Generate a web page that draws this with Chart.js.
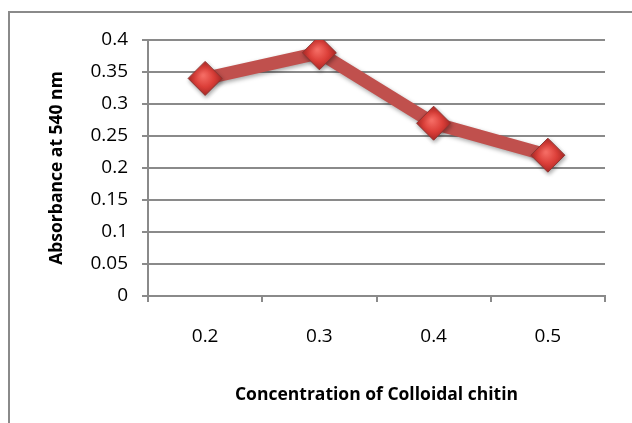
<!DOCTYPE html>
<html>
<head>
<meta charset="utf-8">
<script src="https://cdn.jsdelivr.net/npm/chart.js@4/dist/chart.umd.min.js"></script>
<style>
  html, body { margin: 0; padding: 0; background: #ffffff; overflow: hidden; }
  #frame { position: absolute; left: 8px; top: 11px; width: 700px; height: 500px;
           border: 2px solid #8a8a8a; box-sizing: border-box; }
  #wrap { position: absolute; left: 0; top: 0; width: 632px; height: 423px; }
</style>
</head>
<body>
<div id="frame"></div>
<div id="wrap"><canvas id="c" width="632" height="423"></canvas></div>
<script>
// Colloidal chitin concentration vs. absorbance
const concentrations = ['0.2', '0.3', '0.4', '0.5'];
const absorbance = [0.34, 0.38, 0.27, 0.22];
const yTicks = [0, 0.05, 0.1, 0.15, 0.2, 0.25, 0.3, 0.35, 0.4];

const LINE_RED = '#c0504d';
const MARKER_R = 17;

function markerFill(ctx) {
  const chart = ctx.chart;
  const xs = chart.scales.x, ys = chart.scales.y;
  if (!xs || !ys || ctx.dataIndex === undefined) return '#d9433e';
  const x = xs.getPixelForValue(ctx.dataIndex);
  const y = ys.getPixelForValue(absorbance[ctx.dataIndex]);
  if (!isFinite(x) || !isFinite(y)) return '#d9433e';
  const g = chart.ctx.createRadialGradient(x - 2, y - 3, 1, x, y, MARKER_R);
  g.addColorStop(0, '#f46b63');
  g.addColorStop(0.55, '#dc3f39');
  g.addColorStop(1, '#b02a27');
  return g;
}

// soft drop shadow under the series
const shadowPlugin = {
  id: 'seriesShadow',
  beforeDatasetDraw(chart) {
    const c = chart.ctx;
    c.save();
    c.shadowColor = 'rgba(0,0,0,0.35)';
    c.shadowBlur = 4;
    c.shadowOffsetX = 1;
    c.shadowOffsetY = 2;
  },
  afterDatasetDraw(chart) { chart.ctx.restore(); }
};

const font = '"Open Sans", "Noto Sans", sans-serif';

new Chart(document.getElementById('c'), {
  type: 'line',
  data: {
    labels: concentrations,
    datasets: [{
      data: absorbance,
      borderColor: LINE_RED,
      borderWidth: 13,
      tension: 0,
      pointStyle: 'rectRot',
      pointRadius: MARKER_R,
      pointHoverRadius: MARKER_R,
      pointBackgroundColor: markerFill,
      pointBorderColor: '#8e3431',
      pointBorderWidth: 1
    }]
  },
  options: {
    responsive: false,
    animation: false,
    devicePixelRatio: 1,
    layout: { padding: { left: 40, right: 27, top: 40, bottom: 0 } },
    plugins: { legend: { display: false }, tooltip: { enabled: false } },
    scales: {
      x: {
        type: 'category',
        offset: true,
        afterFit(s) { s.height = 127; },
        grid: { offset: true, drawOnChartArea: false, drawTicks: true, tickLength: 6,
                color: '#8a8a8a', lineWidth: 2 },
        border: { color: '#8a8a8a', width: 2 },
        ticks: { color: '#000', padding: 23, font: { family: font, size: 19 } },
        title: { display: true, text: 'Concentration of Colloidal chitin', color: '#000',
                 font: { family: font, size: 17.5, weight: 'bold' },
                 padding: { top: 0, bottom: 17 } }
      },
      y: {
        min: 0, max: 0.4,
        afterFit(s) { s.width = 108; },
        afterBuildTicks(s) { s.ticks = yTicks.map(v => ({ value: v })); },
        grid: { color: '#8a8a8a', lineWidth: 2, tickLength: 6 },
        border: { color: '#8a8a8a', width: 2 },
        ticks: { color: '#000', padding: 14, font: { family: font, size: 19 },
                 callback: v => String(+v.toFixed(2)) },
        title: { display: true, text: 'Absorbance at 540 nm', color: '#000',
                 font: { family: font, size: 17.5, weight: 'bold' },
                 padding: { top: 7, bottom: 0 } }
      }
    }
  },
  plugins: [shadowPlugin]
});
</script>
</body>
</html>
